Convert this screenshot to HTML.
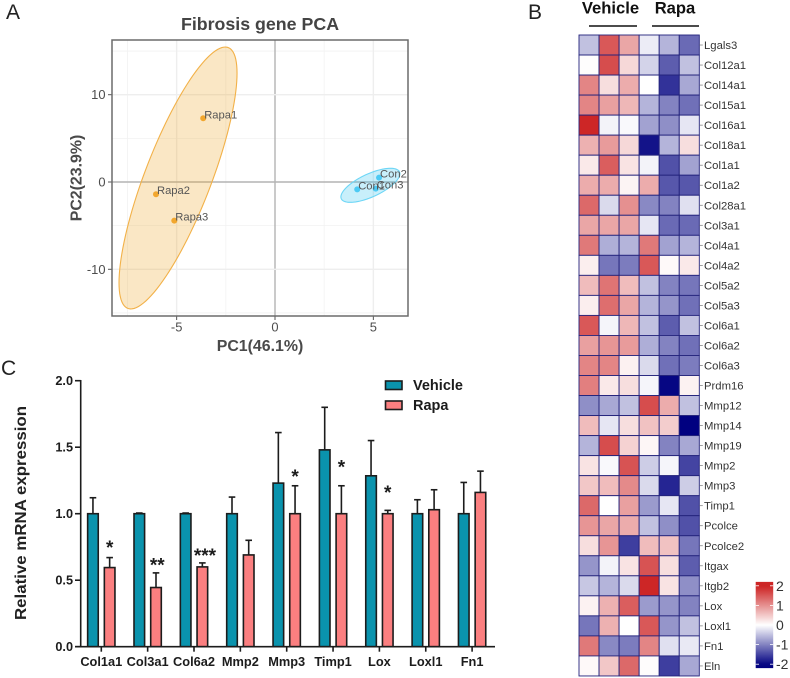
<!DOCTYPE html>
<html lang="en">
<head>
<meta charset="utf-8">
<title>Fibrosis gene figure</title>
<style>
html,body{margin:0;padding:0;background:#fff;width:790px;height:678px;overflow:hidden}
svg{display:block;filter:blur(.35px)}
text{font-family:"Liberation Sans",sans-serif}
</style>
</head>
<body>
<svg id="figure" xmlns="http://www.w3.org/2000/svg" width="790" height="678" viewBox="0 0 790 678">
  <defs>
    <linearGradient id="legend-gradient" x1="0" y1="0" x2="0" y2="1"></linearGradient>
  </defs>
  <rect x="0" y="0" width="790" height="678" fill="#fff"/>
  <text x="6" y="19" font-size="21" fill="#222">A</text>
  <text x="528" y="19" font-size="21" fill="#222">B</text>
  <text x="1" y="375" font-size="21" fill="#222">C</text>
  <g id="pca"></g>
  <g id="bars"></g>
  <g id="heat"></g>
</svg>
<script>
/* ---------- PCA data ---------- */
var pcaNames = ['Rapa1','Rapa2','Rapa3','Con1','Con2','Con3'];
var pcaX = [-3.65,-6.05,-5.12,4.18,5.29,5.12];
var pcaY = [7.3,-1.4,-4.43,-0.84,0.5,-0.76];
var pcaGroup = [0,0,0,1,1,1];
var ellipseCenterX = [-4.93,4.85];
var ellipseCenterY = [0.46,-0.38];
var ellipseHalfX = [3.0,1.5];
var ellipseHalfY = [15,1.95];
var ellipseCorr = [0.8,0.68];
var pcaXTicks = [-5,0,5];
var pcaYTicks = [-10,0,10];
var pcaXMinor = [-7.5,-2.5,2.5];
var pcaYMinor = [-15,-5,5,15];

/* ---------- Bar data ---------- */
var geneNames = ['Col1a1','Col3a1','Col6a2','Mmp2','Mmp3','Timp1','Lox','Loxl1','Fn1'];
var vehicleMeans = [1,1,1,1,1.23,1.48,1.285,1,1];
var vehicleTops = [1.12,1.005,1.005,1.125,1.61,1.80,1.55,1.105,1.235];
var rapaMeans = [0.595,0.445,0.6,0.69,1,1,1,1.03,1.16];
var rapaTops = [0.67,0.555,0.63,0.80,1.21,1.21,1.025,1.18,1.32];
var starLabels = ['*','**','***','','*','*','*','',''];
var starHeights = [0.775,0.645,0.715,0,1.31,1.38,1.19,0,0];
var barYTicks = [0,0.5,1,1.5,2];

/* ---------- Heatmap data ---------- */
var heatGenes = ['Lgals3','Col12a1','Col14a1','Col15a1','Col16a1','Col18a1','Col1a1','Col1a2','Col28a1','Col3a1','Col4a1','Col4a2','Col5a2','Col5a3','Col6a1','Col6a2','Col6a3','Prdm16','Mmp12','Mmp14','Mmp19','Mmp2','Mmp3','Timp1','Pcolce','Pcolce2','Itgax','Itgb2','Lox','Loxl1','Fn1','Eln'];
var heatValues = [
[-0.5,1.5,0.8,-0.15,-0.6,-1.2],
[0.02,1.6,0.35,-0.35,-1.3,-0.5],
[1.1,0.3,0.75,0,-1.65,-0.7],
[1.1,0.85,0.65,-0.6,-1.0,-1.15],
[2.0,-0.1,-0.05,-0.75,-0.9,-0.2],
[0.7,0.9,0.35,-1.9,-0.6,0.3],
[0.2,1.45,0.25,-0.1,-1.4,-0.75],
[0.75,0.75,0.1,0.75,-1.35,-1.35],
[1.35,-0.3,1.0,-0.95,-1.0,-0.25],
[0.8,0.8,0.8,-0.2,-1.2,-1.2],
[1.2,-0.65,-0.6,1.2,-0.75,-0.6],
[0.15,-1.1,-1.05,1.5,0.05,0.2],
[0.6,1.25,0.6,-0.5,-1.0,-1.1],
[0.15,1.3,0.8,-0.6,-0.85,-1.15],
[1.5,-0.08,0.65,-0.5,-1.3,-0.5],
[0.85,0.95,0.9,-0.65,-1,-1.15],
[1.1,1.1,0.13,-0.3,-1.15,-1.05],
[1.15,0.2,0.3,-0.08,-2,0.12],
[-0.9,-0.7,-0.5,1.6,0.75,-0.5],
[0.6,-0.2,0.3,0.55,0.45,-2.1],
[-0.6,1.6,0.4,0.08,-1,-0.7],
[0.25,-0.05,1.55,-0.4,-0.08,-1.5],
[0.5,0.6,1.05,-0.3,-1.75,-0.4],
[1.35,0,0.85,-0.8,-0.2,-1.4],
[0.95,0.8,0.75,-0.5,-0.9,-1.4],
[0.3,0.95,-1.55,0.6,0.55,-1.1],
[-0.85,-0.1,0.25,1.55,0.3,-1.3],
[-0.45,-0.6,-0.3,1.95,0.25,-0.9],
[0.12,0.7,1.45,-0.8,-0.85,-1.0],
[-1.1,0.7,0,1.5,-0.85,-0.5],
[1.2,-0.95,-1.05,1.1,-0.25,-0.18],
[0.05,0.5,1.35,0.03,-1.55,-0.7]
];
var legendTicks = [2,1,0,-1,-2];

/* ---------- helpers ---------- */
var NS = 'http://www.w3.org/2000/svg';
function make(tag, attrs, parent, txt) {
  var n = document.createElementNS(NS, tag);
  for (var k in attrs) n.setAttribute(k, attrs[k]);
  if (txt !== undefined) n.textContent = txt;
  parent.appendChild(n);
  return n;
}
var el;

/* ---------- PCA ---------- */
(function () {
  var g = document.getElementById('pca');
  var box = {l:112, r:408, t:40, b:316};
  function sx(v) { return 275 + v * 19.67; }
  function sy(v) { return 182 - v * 8.73; }

  el = make('text', {x:260, y:30, 'font-size':17.8, 'font-weight':'bold', fill:'#444', 'text-anchor':'middle'}, g, 'Fibrosis gene PCA');
  
  

  pcaXMinor.forEach(function (v) {
    el = make('line', {x1:sx(v), x2:sx(v), y1:box.t, y2:box.b, stroke:'#f2f2f2', 'stroke-width':0.8}, g);
    
    
  });
  pcaYMinor.forEach(function (v) {
    el = make('line', {x1:box.l, x2:box.r, y1:sy(v), y2:sy(v), stroke:'#f2f2f2', 'stroke-width':0.8}, g);
    
    
  });
  pcaXTicks.forEach(function (v) {
    el = make('line', {x1:sx(v), x2:sx(v), y1:box.t, y2:box.b, stroke: v === 0 ? '#b3b3b3' : '#eeeeee', 'stroke-width':1.4}, g);
    
    
    el = make('line', {x1:sx(v), x2:sx(v), y1:box.b, y2:box.b + 4, stroke:'#555', 'stroke-width':1}, g);
    
    
    el = make('text', {x:sx(v), y:331.5, 'font-size':12.9, fill:'#4d4d4d', 'text-anchor':'middle'}, g, String(v));
    
    
  });
  pcaYTicks.forEach(function (v) {
    el = make('line', {x1:box.l, x2:box.r, y1:sy(v), y2:sy(v), stroke: v === 0 ? '#b3b3b3' : '#eeeeee', 'stroke-width':1.4}, g);
    
    
    el = make('line', {x1:box.l - 4, x2:box.l, y1:sy(v), y2:sy(v), stroke:'#555', 'stroke-width':1}, g);
    
    
    el = make('text', {x:105.5, y:sy(v) + 4.5, 'font-size':12.9, fill:'#4d4d4d', 'text-anchor':'end'}, g, String(v));
    
    
  });

  var fills = ['#eda52a', '#34c3f0'];
  var strokes = ['#f2b148', '#6dd6f6'];
  var dots = ['#f2a72e', '#4ccaf4'];
  ellipseCenterX.forEach(function (cx, i) {
    var d = '';
    var c = ellipseCorr[i];
    var s = Math.sqrt(1 - c * c);
    for (var t = 0; t < 120; t++) {
      var a = t / 120 * Math.PI * 2;
      var vx = cx + ellipseHalfX[i] * Math.cos(a);
      var vy = ellipseCenterY[i] + ellipseHalfY[i] * (c * Math.cos(a) + s * Math.sin(a));
      d += (t ? 'L' : 'M') + sx(vx).toFixed(2) + ' ' + sy(vy).toFixed(2);
    }
    d += 'Z';
    el = make('path', {d:d, fill:fills[i], 'fill-opacity':0.27, stroke:strokes[i], 'stroke-width':1.1}, g);
    
    
  });

  pcaNames.forEach(function (name, i) {
    el = make('circle', {cx:sx(pcaX[i]), cy:sy(pcaY[i]), r:3, fill:dots[pcaGroup[i]]}, g);
    
    
  });
  pcaNames.forEach(function (name, i) {
    el = make('text', {x:sx(pcaX[i]) + 1, y:sy(pcaY[i]), 'font-size':11.2, fill:'#555'}, g, name);
    
    
  });

  el = make('rect', {x:box.l, y:box.t, width:box.r - box.l, height:box.b - box.t, fill:'none', stroke:'#6b6b6b', 'stroke-width':1.5}, g);
  
  

  el = make('text', {x:260, y:351, 'font-size':15.9, 'font-weight':'bold', fill:'#4a4a4a', 'text-anchor':'middle'}, g, 'PC1(46.1%)');
  
  
  el = make('text', {transform:'translate(81.5,178) rotate(-90)', 'font-size':15.9, 'font-weight':'bold', fill:'#4a4a4a', 'text-anchor':'middle'}, g, 'PC2(23.9%)');
  
  
})();

/* ---------- Bars ---------- */
(function () {
  var g = document.getElementById('bars');
  var ink = '#1c1c1c';
  function sy(v) { return 646.7 - v * 133; }
  function sx(i) { return 101.3 + i * 46.35; }
  var off = 8.35, w = 10.6, cap = 3.3, sw = 1.6;

  function drawBar(x, mean, top, fill, label) {
    el = make('line', {x1:x, x2:x, y1:sy(mean), y2:sy(top), stroke:ink, 'stroke-width':sw}, g);
    
    
    el = make('line', {x1:x - cap, x2:x + cap, y1:sy(top), y2:sy(top), stroke:ink, 'stroke-width':sw}, g);
    
    
    el = make('rect', {x:x - w / 2, y:sy(mean), width:w, height:sy(0) - sy(mean), fill:fill, stroke:ink, 'stroke-width':sw}, g);
    
    
  }

  geneNames.forEach(function (name, i) {
    drawBar(sx(i) - off, vehicleMeans[i], vehicleTops[i], '#0a93ad', 'vehicle-' + name.toLowerCase());
    drawBar(sx(i) + off, rapaMeans[i], rapaTops[i], '#fb7f80', 'rapa-' + name.toLowerCase());
    el = make('line', {x1:sx(i), x2:sx(i), y1:sy(0), y2:sy(0) + 5, stroke:ink, 'stroke-width':sw}, g);
    
    
    el = make('text', {x:sx(i), y:666, 'font-size':12.8, 'font-weight':'bold', fill:'#1c1c1c', 'text-anchor':'middle'}, g, name);
    
    
    if (starLabels[i]) {
      el = make('text', {x:sx(i) + off + (starLabels[i].length - 1) * 1.3, y:sy(starHeights[i]) + 10.5, 'font-size':19, 'font-weight':'bold', fill:'#1c1c1c', 'text-anchor':'middle'}, g, starLabels[i]);
      
      
    }
  });

  el = make('line', {x1:80.7, x2:80.7, y1:sy(2) - 0.7, y2:sy(0) + 0.7, stroke:ink, 'stroke-width':sw}, g);
  
  
  el = make('line', {x1:75, x2:495, y1:sy(0), y2:sy(0), stroke:ink, 'stroke-width':sw}, g);
  
  

  barYTicks.forEach(function (v) {
    el = make('line', {x1:75, x2:80.7, y1:sy(v), y2:sy(v), stroke:ink, 'stroke-width':sw}, g);
    
    
    el = make('text', {x:73, y:sy(v) + 4.5, 'font-size':12.7, 'font-weight':'bold', fill:'#1c1c1c', 'text-anchor':'end'}, g, v.toFixed(1));
    
    
  });

  el = make('text', {transform:'translate(26,513) rotate(-90)', 'font-size':16, 'font-weight':'bold', fill:'#222', 'text-anchor':'middle', textLength:214, lengthAdjust:'spacingAndGlyphs'}, g, 'Relative mRNA expression');
  
  

  el = make('rect', {x:385.5, y:381, width:16.5, height:8.5, fill:'#0a93ad', stroke:ink, 'stroke-width':sw}, g);
  
  
  el = make('text', {x:413, y:390, 'font-size':14.5, 'font-weight':'bold', fill:'#1c1c1c'}, g, 'Vehicle');
  
  
  el = make('rect', {x:385.5, y:401, width:16.5, height:8.5, fill:'#fb7f80', stroke:ink, 'stroke-width':sw}, g);
  
  
  el = make('text', {x:413, y:410, 'font-size':14.5, 'font-weight':'bold', fill:'#1c1c1c'}, g, 'Rapa');
  
  
})();

/* ---------- Heatmap ---------- */
(function () {
  var g = document.getElementById('heat');
  var left = 579, top = 35, cw = 20.05, rh = 20.03;
  var red = [205, 38, 38], navy = [0, 0, 128];
  function color(v) {
    var c = v >= 0 ? red : navy;
    var f = Math.min(1, Math.abs(v) / (v >= 0 ? 1.95 : 2.05));
    var m = [0, 1, 2].map(function (k) { return Math.round(255 + (c[k] - 255) * f); });
    return 'rgb(' + m.join(',') + ')';
  }

  el = make('text', {x:610.5, y:13.5, 'font-size':16.6, 'font-weight':'bold', fill:'#111', 'text-anchor':'middle'}, g, 'Vehicle');
  
  
  el = make('text', {x:675, y:13.5, 'font-size':16.6, 'font-weight':'bold', fill:'#111', 'text-anchor':'middle'}, g, 'Rapa');
  
  
  el = make('line', {x1:589, x2:637, y1:26, y2:26, stroke:'#111', 'stroke-width':1.5}, g);
  
  
  el = make('line', {x1:652, x2:699, y1:26, y2:26, stroke:'#111', 'stroke-width':1.5}, g);
  
  

  heatValues.forEach(function (row, r) {
    row.forEach(function (v, c) {
      el = make('rect', {x:left + c * cw, y:top + r * rh, width:cw, height:rh, fill:color(v), stroke:'#23237c', 'stroke-width':0.9}, g);
      
      
    });
    el = make('line', {x1:left + 6 * cw, x2:left + 6 * cw + 3.5, y1:top + (r + .5) * rh, y2:top + (r + .5) * rh, stroke:'#777', 'stroke-width':0.7}, g);
    
    
    el = make('text', {x:704, y:top + (r + .5) * rh + 4, 'font-size':11.3, fill:'#333'}, g, heatGenes[r]);
    
    
  });

  /* colour legend */
  var lg = document.getElementById('legend-gradient');
  for (var i = 0; i <= 20; i++) {
    make('stop', {offset:(i * 5) + '%', 'stop-color':color(2.2 - i * 0.22)}, lg);
  }
  function ly(v) { return 625 - v * 19.6; }
  el = make('rect', {x:755.7, y:ly(2.2), width:17.5, height:ly(-2.2) - ly(2.2), fill:'url(#legend-gradient)'}, g);
  
  
  legendTicks.forEach(function (v) {
    el = make('line', {x1:755.7, x2:759, y1:ly(v), y2:ly(v), stroke:'#fff', 'stroke-width':0.8}, g);
    
    
    el = make('line', {x1:770, x2:773.2, y1:ly(v), y2:ly(v), stroke:'#fff', 'stroke-width':0.8}, g);
    
    
    el = make('text', {x:776, y:ly(v) + 5, 'font-size':14, fill:'#333'}, g, String(v));
    
    
  });
})();
</script>
</body>
</html>
